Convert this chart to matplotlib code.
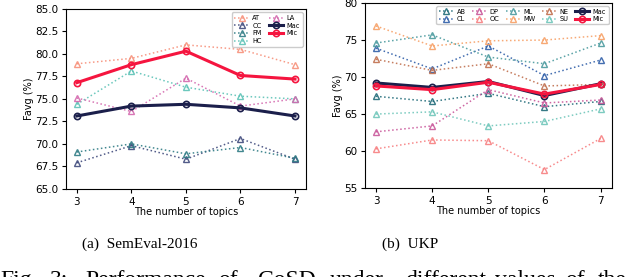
import numpy as np
import matplotlib
matplotlib.use('Agg')
import matplotlib.pyplot as plt

topics = [3, 4, 5, 6, 7]

# SemEval-2016
sem_names = ['AT', 'CC', 'FM', 'HC', 'LA']
sem_vals = {
    'AT': [78.9, 79.5, 81.0, 80.5, 78.8],
    'CC': [67.9, 69.8, 68.3, 70.6, 68.3],
    'FM': [69.1, 70.0, 68.9, 69.6, 68.4],
    'HC': [74.4, 78.1, 76.3, 75.3, 75.0],
    'LA': [75.1, 73.6, 77.3, 74.2, 75.0],
}
sem_mac = [73.1, 74.2, 74.4, 74.0, 73.1]
sem_mic = [76.8, 78.8, 80.3, 77.6, 77.2]

# UKP
ukp_names = ['AB', 'CL', 'DP', 'OC', 'ML', 'MW', 'NE', 'SU']
ukp_vals = {
    'AB': [67.4, 66.7, 67.8, 66.0, 66.7],
    'CL': [73.9, 71.1, 74.2, 70.2, 72.3],
    'DP': [62.6, 63.4, 68.3, 66.5, 66.9],
    'OC': [60.3, 61.5, 61.4, 57.5, 61.7],
    'ML': [74.6, 75.7, 72.7, 71.8, 74.6],
    'MW': [76.9, 74.2, 74.9, 75.0, 75.6],
    'NE': [72.4, 70.9, 71.8, 68.8, 69.0],
    'SU': [65.0, 65.3, 63.4, 64.0, 65.7],
}
ukp_mac = [69.2, 68.6, 69.4, 67.5, 69.1]
ukp_mic = [68.8, 68.3, 69.3, 67.7, 69.0]

sem_colors = {'AT': '#f7907a', 'CC': '#3f4a7c', 'FM': '#2e7b84',
              'HC': '#5cc2b6', 'LA': '#d468ae'}
ukp_colors = {'AB': '#1f6a78', 'CL': '#2f5ea8', 'DP': '#c9579a', 'OC': '#f77f80',
              'ML': '#4a9a9e', 'MW': '#f7a066', 'NE': '#c06f4e', 'SU': '#6fc6ba'}
mac_color = '#1b1f4b'
mic_color = '#f5153f'

# caption line, cut off at the bottom edge as in the source
caption_words = ['Fig.', '3:', 'Performance', 'of', 'CoSD', 'under',
                 'different', 'values', 'of', 'the']
caption_x = [0, 50, 85, 218, 258, 330, 405, 495, 565, 598]


def draw(ax, names, vals, colors, mac, mic):
    for n in names:
        ax.plot(topics, vals[n], ls=':', lw=1.1, color=colors[n], marker='^',
                ms=5, mfc='none', mew=1.0, label=n, alpha=0.9)
    ax.plot(topics, mac, ls='-', lw=2.2, color=mac_color, marker='o', ms=4.5,
            mfc='none', mew=1.2, label='Mac')
    ax.plot(topics, mic, ls='-', lw=2.2, color=mic_color, marker='o', ms=4.5,
            mfc='none', mew=1.2, label='Mic')
    ax.set_xticks(topics)
    ax.tick_params(labelsize=7.5, length=3, width=0.8, pad=2.5)
    ax.set_xlabel('The number of topics', fontsize=7, labelpad=0.5)
    ax.set_ylabel('Favg (%)', fontsize=7, labelpad=1)
    for s in ax.spines.values():
        s.set_linewidth(0.8)


fig = plt.figure(figsize=(6.4, 2.77), dpi=100)
ax1 = fig.add_axes([0.103, 0.318, 0.375, 0.65])
ax2 = fig.add_axes([0.570, 0.321, 0.386, 0.668])

draw(ax1, sem_names, sem_vals, sem_colors, sem_mac, sem_mic)
ax1.set_ylim(65, 85)
ax1.set_yticks(np.arange(65, 85.1, 2.5))
ax1.legend(ncol=2, fontsize=4.8, loc='upper right', handlelength=2.2,
           columnspacing=1.0, labelspacing=0.25, borderpad=0.4,
           handletextpad=0.5, framealpha=1, edgecolor='#cccccc')

draw(ax2, ukp_names, ukp_vals, ukp_colors, ukp_mac, ukp_mic)
ax2.set_ylim(55, 80)
ax2.set_yticks([55, 60, 65, 70, 75, 80])
ax2.legend(ncol=5, fontsize=4.8, loc='upper right', handlelength=2.2,
           columnspacing=0.9, labelspacing=0.2, borderpad=0.35,
           handletextpad=0.5, framealpha=1, edgecolor='#cccccc')

fig.text(140 / 640, 1 - 244 / 277, '(a)  SemEval-2016', ha='center', va='center',
         fontsize=11, family='Liberation Serif')
fig.text(410 / 640, 1 - 244 / 277, '(b)  UKP', ha='center', va='center',
         fontsize=11, family='Liberation Serif')
for w, x in zip(caption_words, caption_x):
    fig.text(x / 640, 1 - 286 / 277, w, ha='left', va='baseline',
             fontsize=17, family='Liberation Serif')

fig.savefig('out.png', dpi=100)
